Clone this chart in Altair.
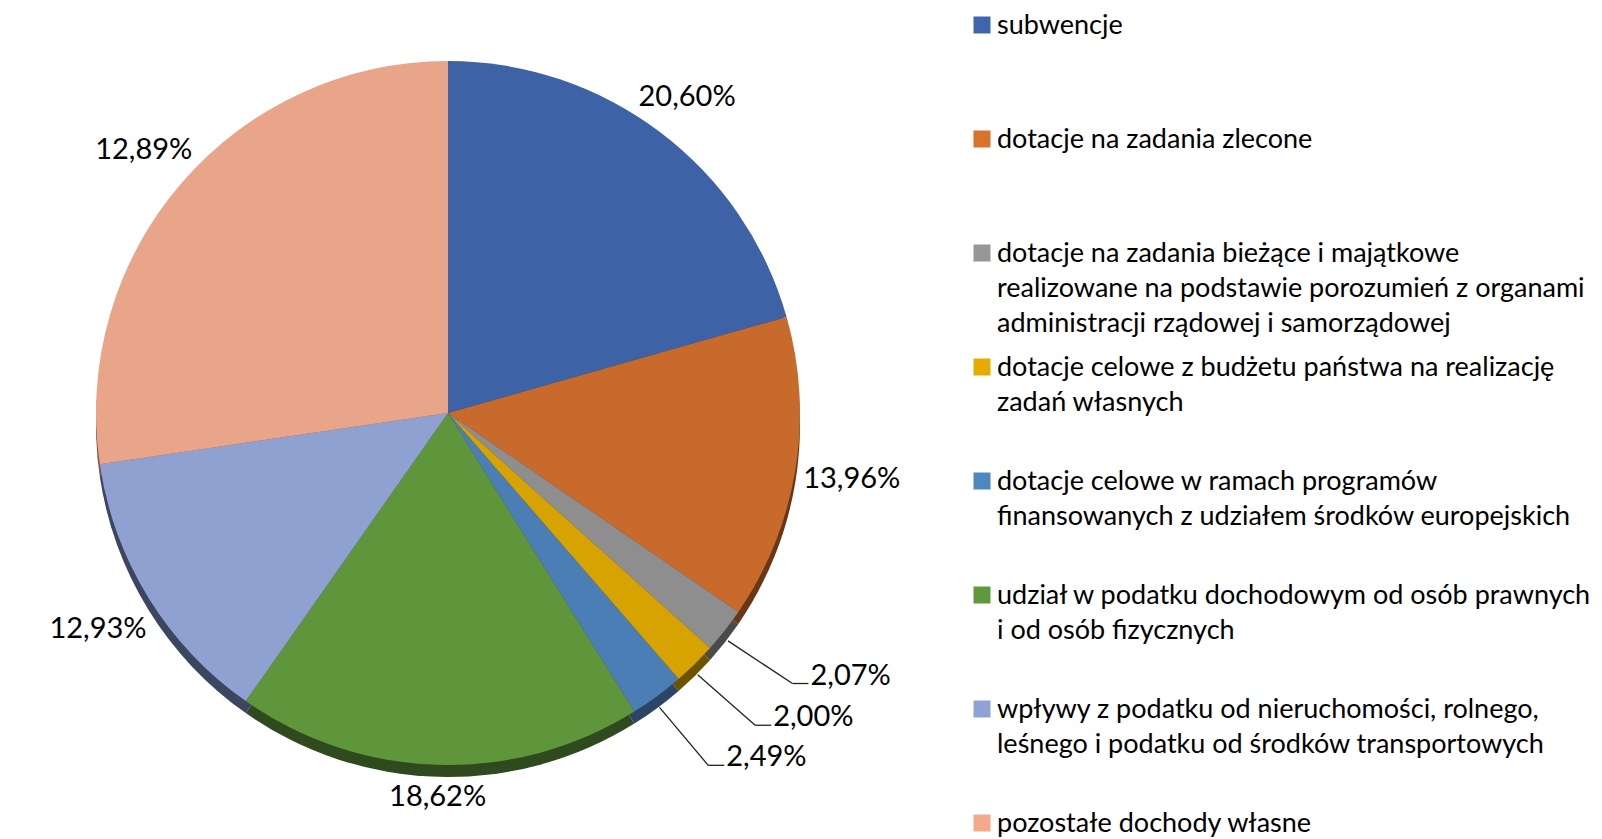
import altair as alt
import pandas as pd

# ---- data ----
categories = [
    "subwencje",
    "dotacje na zadania zlecone",
    "dotacje na zadania bieżące i majątkowe\nrealizowane na podstawie porozumień z organami\nadministracji rządowej i samorządowej",
    "dotacje celowe z budżetu państwa na realizację\nzadań własnych",
    "dotacje celowe w ramach programów\nfinansowanych z udziałem środków europejskich",
    "udział w podatku dochodowym od osób prawnych\ni od osób fizycznych",
    "wpływy z podatku od nieruchomości, rolnego,\nleśnego i podatku od środków transportowych",
    "pozostałe dochody własne",
]
# slice sizes as drawn in the picture (percent of whole)
shares = [20.60, 13.96, 2.07, 2.00, 2.49, 18.62, 12.93, 27.33]
# label texts as printed on the chart
labels = ["20,60%", "13,96%", "2,07%", "2,00%", "2,49%", "18,62%", "12,93%", "12,89%"]

# ---- styles ----
pie_colors = ["#3D62A6", "#C86A2C", "#8E8E8E", "#D7A300", "#4A7EB4", "#5F963C", "#8EA1D0", "#E8A58A"]
rim_colors = ["#22385f", "#6b3616", "#4a4a4a", "#6d5200", "#2B4566", "#2E4A1E", "#3d4660", "#7a5040"]
legend_colors = ["#3F65AE", "#D7732F", "#979797", "#E6AB00", "#4E86C0", "#5E9A3C", "#8EA2D6", "#F2A98C"]
FONT = "Lato"

W1, W2, H = 960, 626, 823
CX, CY, R, RIM = 440, 405, 352, 12

df = pd.DataFrame({"idx": list(range(len(categories))), "cat": categories,
                   "share": shares, "label": labels})

base = alt.Chart(df)

rim = base.mark_arc(radius=R).encode(
    theta=alt.Theta("share:Q", stack=True),
    order=alt.Order("idx:Q"),
    color=alt.Color("cat:N", scale=alt.Scale(domain=categories, range=rim_colors), legend=None),
    x=alt.value(CX), y=alt.value(CY + RIM),
)
top = base.mark_arc(radius=R).encode(
    theta=alt.Theta("share:Q", stack=True),
    order=alt.Order("idx:Q"),
    color=alt.Color("cat:N", scale=alt.Scale(domain=categories, range=pie_colors), legend=None),
    x=alt.value(CX), y=alt.value(CY),
)

# label box placed just outside the pie along the slice's middle direction
geo = base.transform_window(
    cum="sum(share)", sort=[alt.SortField("idx")]
).transform_joinaggregate(
    total="sum(share)"
).transform_calculate(
    mid="(datum.cum - datum.share/2)/datum.total*2*PI"
).transform_calculate(
    lr=f"{R} + 8 + 46*abs(sin(datum.mid)) + 11*abs(cos(datum.mid)) + {RIM}*max(0, -cos(datum.mid))"
).transform_calculate(
    lx=f"{CX} + datum.lr*sin(datum.mid)",
    ly=f"{CY} - datum.lr*cos(datum.mid)",
    sx=f"{CX} + {R + 4}*sin(datum.mid)",
    sy=f"{CY} - {R + 4}*cos(datum.mid) + 8",
    ex=f"{CX} + 438*sin(datum.mid)",
    ey=f"{CY} - 438*cos(datum.mid)",
).transform_calculate(
    fx="datum.ex + 16",
    tx="datum.ex + 18",
)

big_labels = geo.transform_filter("datum.share >= 3").mark_text(
    font=FONT, fontSize=29, align="center", baseline="middle", color="black"
).encode(
    x=alt.X("lx:Q", scale=None, axis=None),
    y=alt.Y("ly:Q", scale=None, axis=None),
    text="label:N",
)

small = geo.transform_filter("datum.share < 3")
lead1 = small.mark_rule(color="#222", strokeWidth=1.3).encode(
    x=alt.X("sx:Q", scale=None, axis=None), y=alt.Y("sy:Q", scale=None, axis=None),
    x2="ex:Q", y2="ey:Q",
)
lead2 = small.mark_rule(color="#222", strokeWidth=1.3).encode(
    x=alt.X("ex:Q", scale=None, axis=None), y=alt.Y("ey:Q", scale=None, axis=None),
    x2="fx:Q", y2="ey:Q",
)
small_labels = small.mark_text(
    font=FONT, fontSize=29, align="left", baseline="alphabetic", color="black", dy=1
).encode(
    x=alt.X("tx:Q", scale=None, axis=None),
    y=alt.Y("ey:Q", scale=None, axis=None),
    text="label:N",
)

pie = alt.layer(rim, top, lead1, lead2, big_labels, small_labels).resolve_scale(
    color="independent"
).properties(width=W1, height=H)

yscale = alt.Scale(type="point", domain=categories, range=[17, 17 + 7 * 114], padding=0)
leg_sq = base.mark_square(size=289, opacity=1).encode(
    x=alt.value(14),
    y=alt.Y("cat:N", scale=yscale, axis=None),
    color=alt.Color("cat:N", scale=alt.Scale(domain=categories, range=legend_colors), legend=None),
)
leg_tx = base.mark_text(
    font=FONT, fontSize=27, align="left", baseline="alphabetic", dy=9,
    lineBreak="\n", lineHeight=35, color="black",
).encode(
    x=alt.value(29),
    y=alt.Y("cat:N", scale=yscale, axis=None),
    text="cat:N",
)
legend = alt.layer(leg_sq, leg_tx).properties(width=W2, height=H)

chart = alt.hconcat(pie, legend, spacing=0).properties(
    padding=0, background="white"
).configure_view(stroke=None)

chart.save("out.html", embed_options={"renderer": "svg", "actions": False})
